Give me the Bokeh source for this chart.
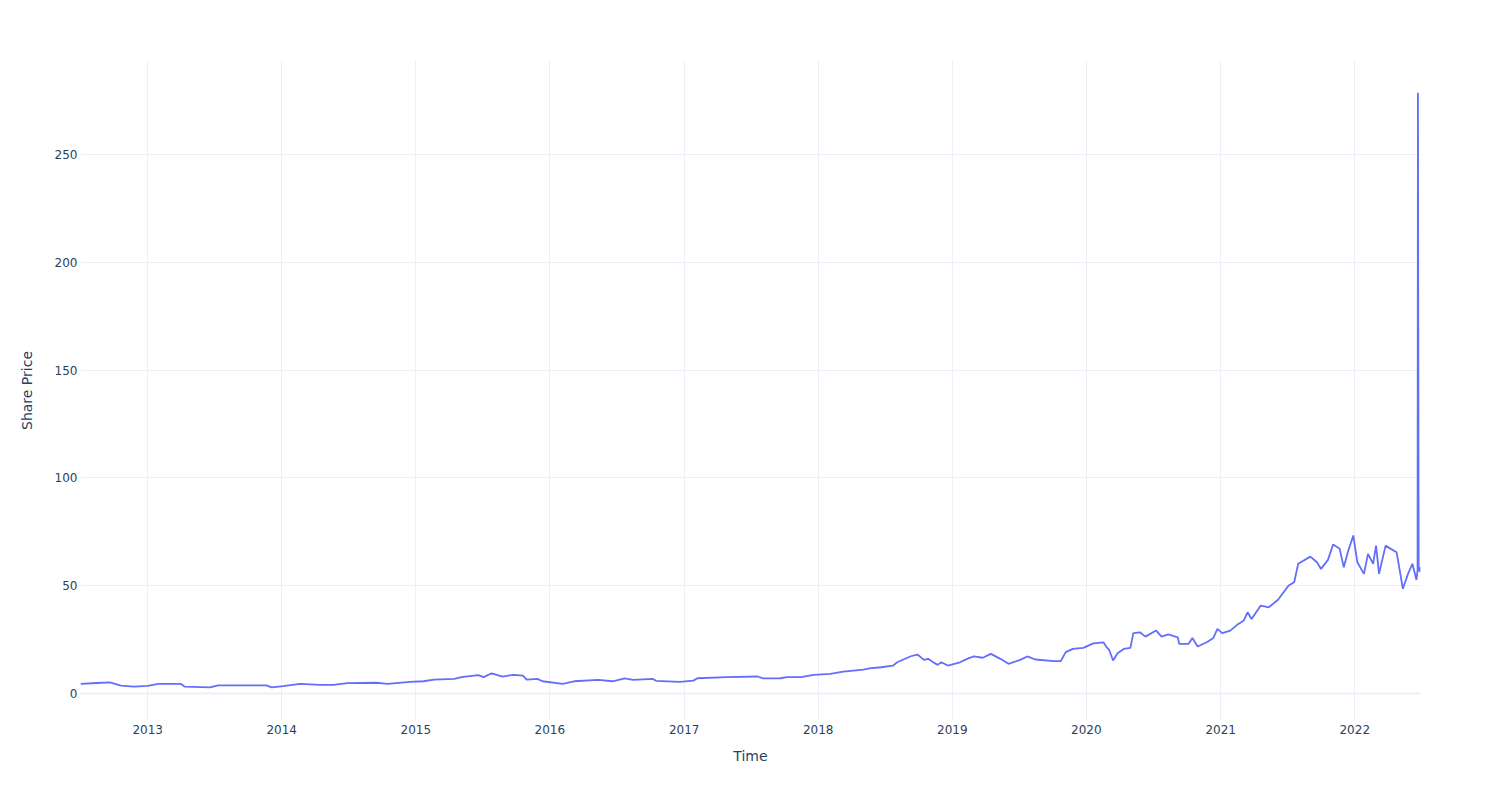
import pandas as pd
from bokeh.plotting import figure
from bokeh.models import Range1d, FixedTicker, Span, DatetimeTickFormatter
from bokeh.embed import file_html
from bokeh.resources import INLINE

dates = [
    "2012-07-02", "2012-08-15", "2012-09-20", "2012-10-20", "2012-11-25",
    "2013-01-01", "2013-01-30", "2013-04-01", "2013-04-12", "2013-06-20",
    "2013-07-12", "2013-11-20", "2013-12-05", "2014-01-05", "2014-02-20",
    "2014-04-15", "2014-05-22", "2014-06-28", "2014-09-16", "2014-10-16",
    "2014-12-16", "2015-01-22", "2015-02-20", "2015-04-16", "2015-05-05",
    "2015-06-20", "2015-07-05", "2015-07-25", "2015-08-01", "2015-08-25",
    "2015-09-24", "2015-10-20", "2015-10-30", "2015-11-28", "2015-12-12",
    "2016-02-05", "2016-03-07", "2016-05-12", "2016-06-20", "2016-07-23",
    "2016-08-15", "2016-10-08", "2016-10-16", "2016-12-20", "2017-01-26",
    "2017-02-06", "2017-04-28", "2017-07-20", "2017-08-04", "2017-09-20",
    "2017-10-08", "2017-11-15", "2017-12-20", "2018-02-03", "2018-03-10",
    "2018-05-04", "2018-05-20", "2018-06-21", "2018-07-24", "2018-08-04",
    "2018-09-10", "2018-09-28", "2018-10-16", "2018-10-27", "2018-11-10",
    "2018-11-22", "2018-12-02", "2018-12-20", "2019-01-22", "2019-02-10",
    "2019-03-01", "2019-03-25", "2019-04-16", "2019-05-12", "2019-06-03",
    "2019-07-05", "2019-07-24", "2019-08-15", "2019-10-05", "2019-10-23",
    "2019-11-06", "2019-11-25", "2019-12-24", "2020-01-20", "2020-02-17",
    "2020-02-24", "2020-03-03", "2020-03-14", "2020-03-26", "2020-04-12",
    "2020-04-30", "2020-05-08", "2020-05-26", "2020-06-10", "2020-07-09",
    "2020-07-24", "2020-08-11", "2020-09-06", "2020-09-10", "2020-10-05",
    "2020-10-16", "2020-10-30", "2020-11-24", "2020-12-12", "2020-12-23",
    "2021-01-05", "2021-01-27", "2021-02-18", "2021-03-05", "2021-03-15",
    "2021-03-26", "2021-04-20", "2021-05-12", "2021-06-06", "2021-07-05",
    "2021-07-20", "2021-07-31", "2021-09-02", "2021-09-20", "2021-10-01",
    "2021-10-20", "2021-11-03", "2021-11-21", "2021-12-02", "2021-12-13",
    "2021-12-28", "2022-01-08", "2022-01-26", "2022-02-06", "2022-02-20",
    "2022-02-28", "2022-03-08", "2022-03-26", "2022-04-09", "2022-04-25",
    "2022-05-12", "2022-05-26", "2022-06-07", "2022-06-18", "2022-06-21",
    "2022-06-22", "2022-06-23", "2022-06-24", "2022-06-27", "2022-06-28",
]

share_price = [
    4.5, 4.9, 5.2, 3.7, 3.2,
    3.6, 4.5, 4.5, 3.2, 2.9,
    3.8, 3.8, 2.9, 3.4, 4.5,
    4.0, 4.0, 4.8, 5.0, 4.5,
    5.4, 5.7, 6.5, 6.8, 7.6,
    8.5, 7.6, 9.3, 9.1, 7.9,
    8.7, 8.3, 6.5, 6.8, 5.7,
    4.5, 5.7, 6.3, 5.7, 7.0,
    6.3, 6.8, 5.9, 5.4, 6.0,
    7.1, 7.6, 7.9, 7.0, 7.1,
    7.6, 7.6, 8.7, 9.1, 10.2,
    11.1, 11.7, 12.2, 13.0, 14.5,
    17.3, 18.1, 15.6, 16.1, 14.5,
    13.3, 14.5, 13.0, 14.5, 16.1,
    17.2, 16.6, 18.4, 16.1, 13.8,
    15.6, 17.2, 15.8, 15.0, 15.0,
    19.2, 20.7, 21.2, 23.3, 23.7,
    21.8, 20.3, 15.3, 18.7, 20.7,
    21.2, 28.0, 28.4, 26.4, 29.2,
    26.4, 27.4, 26.1, 23.0, 23.0,
    25.8, 21.8, 23.8, 25.8, 30.0,
    28.0, 29.2, 32.3, 33.9, 37.7,
    34.6, 40.8, 40.0, 43.5, 50.1,
    51.6, 60.2, 63.5, 60.9, 57.8,
    62.0, 69.1, 67.1, 58.6, 65.5,
    73.3, 60.9, 55.5, 64.8, 60.2,
    68.6, 55.5, 68.6, 67.1, 65.5,
    48.6, 55.5, 60.2, 52.7, 57.1,
    278.6, 167.6, 58.6, 56.5, 58.6,
]

year_ticks = [2013, 2014, 2015, 2016, 2017, 2018, 2019, 2020, 2021, 2022]
price_ticks = [0, 50, 100, 150, 200, 250]

x = pd.to_datetime(dates)

FONT = "DejaVu Sans"
TXT = "#2a3f5f"
GRID = "#EBF0F8"

p = figure(
    width=1500, height=800, x_axis_type="datetime",
    output_backend="svg", toolbar_location=None,
    x_range=Range1d(pd.Timestamp("2012-07-02"), pd.Timestamp("2022-06-29")),
    y_range=Range1d(-12.5, 293.6),
    min_border_left=80, min_border_right=80, min_border_top=60, min_border_bottom=80,
    background_fill_color="white", border_fill_color="white",
)
p.outline_line_color = None

p.line(x, share_price, line_color="#636efa", line_width=1.8)

tick_ms = [pd.Timestamp(f"{y}-01-01").value / 1e6 for y in year_ticks]
p.xaxis.ticker = FixedTicker(ticks=tick_ms)
p.xaxis.formatter = DatetimeTickFormatter(years="%Y", months="%Y", days="%Y")
p.yaxis.ticker = FixedTicker(ticks=price_ticks)

for ax in (p.xaxis[0], p.yaxis[0]):
    ax.axis_line_color = None
    ax.major_tick_line_color = None
    ax.minor_tick_line_color = None
    ax.major_tick_in = 0
    ax.major_tick_out = 0
    ax.major_label_text_font = FONT
    ax.major_label_text_font_size = "12px"
    ax.major_label_text_color = TXT
    ax.axis_label_text_font = FONT
    ax.axis_label_text_font_size = "14px"
    ax.axis_label_text_color = TXT
    ax.axis_label_text_font_style = "normal"

p.xaxis.axis_label = "Time"
p.yaxis.axis_label = "Share Price"
p.xaxis.major_label_standoff = 4
p.yaxis.major_label_standoff = 3
p.xaxis.axis_label_standoff = 11
p.yaxis.axis_label_standoff = 17

p.xgrid.grid_line_color = GRID
p.ygrid.grid_line_color = GRID
p.xgrid.grid_line_width = 1
p.ygrid.grid_line_width = 1

zero = Span(location=0, dimension="width", line_color=GRID, line_width=2, level="underlay")
p.add_layout(zero)

open("out.html", "w").write(file_html(p, INLINE))
